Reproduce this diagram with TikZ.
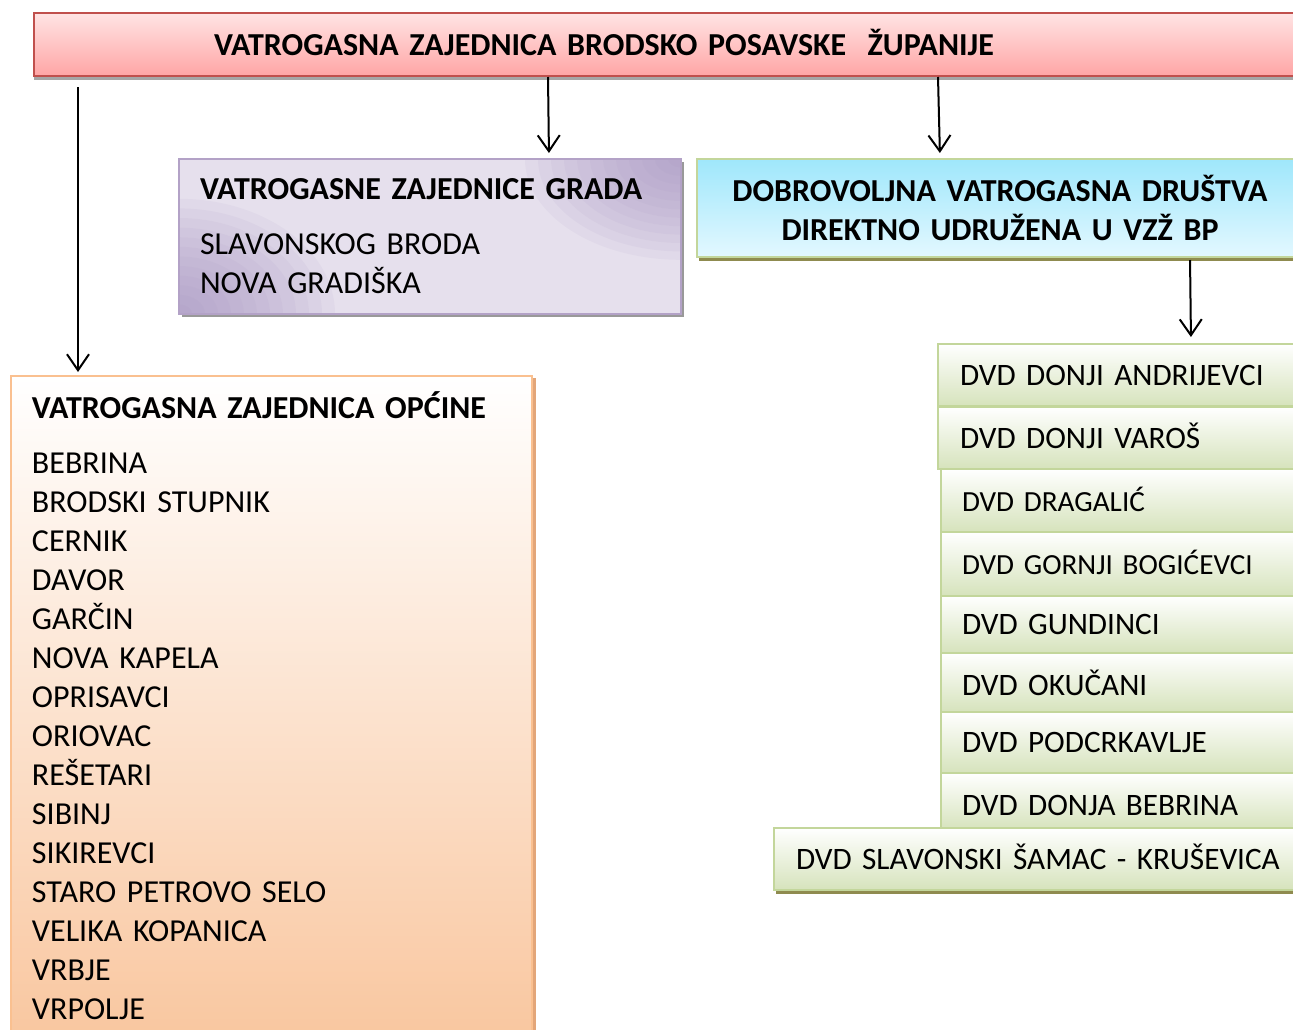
\documentclass[tikz,border=0pt]{standalone}
\usepackage{fontspec}
\setmainfont[WordSpace=0.85]{Carlito}
\usetikzlibrary{arrows.meta,shadows}

\definecolor{zupline}{HTML}{C0504D}
\definecolor{zuptop}{HTML}{FFE4E4}
\definecolor{zupbot}{HTML}{FFA5A5}
\definecolor{gradline}{HTML}{B3A2C7}
\definecolor{graddark}{HTML}{9F8BBC}
\definecolor{gradlight}{HTML}{E6E0ED}
\definecolor{dvdline}{HTML}{C3D69B}
\definecolor{dvdtop}{HTML}{9FE7FB}
\definecolor{dvdbot}{HTML}{E3F8FF}
\definecolor{grnbot}{HTML}{D6E3BC}
\definecolor{opcline}{HTML}{FAC090}
\definecolor{opcbot}{HTML}{F9C7A0}
\definecolor{opcshadow}{HTML}{E3A679}

\tikzset{
  txt/.style={font=\fontsize{16}{19.5}\selectfont},
  gtxt/.style={font=\fontsize{15.6}{19.5}\selectfont},
  stxt/.style={font=\fontsize{14.6}{19.5}\selectfont, text height=12pt, text depth=1.2pt},
  btxt/.style={font=\fontsize{16}{19.5}\selectfont\bfseries},
  box/.style={draw, line width=1pt, anchor=north west, inner ysep=0pt},
  zupbox/.style={box, draw=zupline, top color=zuptop, bottom color=zupbot,
    drop shadow={shadow xshift=0pt, shadow yshift=-2pt, fill=black!35, opacity=1}},
  gradbox/.style={box, draw=gradline, fill=gradlight,
    path picture={
      \foreach \k in {1,...,12}{
        \fill[graddark, opacity=0.08]
          (path picture bounding box.north east) ellipse [x radius=\k*6.5pt, y radius=\k*4.2pt];
        \fill[graddark, opacity=0.08]
          (path picture bounding box.south west) ellipse [x radius=\k*6.5pt, y radius=\k*4.8pt];}},
    drop shadow={shadow xshift=1.5pt, shadow yshift=-1.5pt, fill=black!40, opacity=1}},
  dvdbox/.style={box, draw=dvdline, top color=dvdtop, bottom color=dvdbot,
    drop shadow={shadow xshift=1pt, shadow yshift=-2pt, fill=olive!45!gray, opacity=1}},
  grnbox/.style={box, draw=dvdline, top color=white, bottom color=grnbot,
    inner xsep=11pt, align=left, text height=11.6pt, text depth=1.4pt,
    drop shadow={shadow xshift=1pt, shadow yshift=-2pt, fill=olive!45!gray, opacity=1}},
  opcbox/.style={box, draw=opcline, top color=white, bottom color=opcbot,
    drop shadow={shadow xshift=2pt, shadow yshift=-1pt, fill=opcshadow, opacity=1}},
  arr/.style={line width=1pt, -{Straight Barb[length=8pt,width=11pt]}},
}

\begin{document}
\begin{tikzpicture}[x=0.5pt,y=-0.5pt]
\useasboundingbox (0,0) rectangle (1293,1029);
\clip (0,0) rectangle (1293,1029);

% zupanija
\node[zupbox, btxt, minimum width=638.5pt, minimum height=31.5pt, inner xsep=90pt,
  text width=458.5pt, align=left, text height=12pt, text depth=1.2pt] (zup) at (33,12)
  {VATROGASNA ZAJEDNICA BRODSKO POSAVSKE\ \ ŽUPANIJE};

% gradovi
\node[gradbox, txt, minimum height=77.5pt, inner xsep=10.5pt, text width=230pt,
  align=left] (grad) at (178,158)
  {\textbf{VATROGASNE ZAJEDNICE GRADA}\\[8pt]
   SLAVONSKOG BRODA\\
   NOVA GRADIŠKA};

% direktno udruzena
\node[dvdbox, btxt, minimum width=303pt, minimum height=49pt, text width=286pt,
  align=center] (dvd) at (696,158)
  {DOBROVOLJNA VATROGASNA DRUŠTVA\\
   DIREKTNO UDRUŽENA U VZŽ BP};

% opcine
\node[opcbox, txt, minimum height=330pt, inner xsep=10.5pt, text width=239.5pt,
  align=left] (opc) at (10,375)
  {\textbf{VATROGASNA ZAJEDNICA OPĆINE}\\[8pt]
   BEBRINA\\ BRODSKI STUPNIK\\ CERNIK\\ DAVOR\\ GARČIN\\ NOVA KAPELA\\
   OPRISAVCI\\ ORIOVAC\\ REŠETARI\\ SIBINJ\\ SIKIREVCI\\ STARO PETROVO SELO\\
   VELIKA KOPANICA\\ VRBJE\\ VRPOLJE};

% dvd popis
\node[grnbox, gtxt, minimum height=31pt, text width=164.5pt] (andr) at (937,343) {DVD DONJI ANDRIJEVCI};
\node[grnbox, gtxt, minimum height=31pt, text width=164.5pt] (varos) at (937,406) {DVD DONJI VAROŠ};
\node[grnbox, stxt, minimum height=31.5pt, inner xsep=10.5pt, text width=164pt] (drag) at (940,468) {DVD DRAGALIĆ};
\node[grnbox, stxt, minimum height=32pt, inner xsep=10.5pt, text width=164pt] (bogic) at (940,531) {DVD GORNJI BOGIĆEVCI};
\node[grnbox, gtxt, minimum height=28.5pt, inner xsep=10.5pt, text width=164pt] (gund) at (940,595) {DVD GUNDINCI};
\node[grnbox, gtxt, minimum height=29.5pt, inner xsep=10.5pt, text width=164pt,
  text height=14.6pt] (okuc) at (940,652) {DVD OKUČANI};
\node[grnbox, gtxt, minimum height=30.5pt, inner xsep=10.5pt, text width=164pt] (podcr) at (940,711) {DVD PODCRKAVLJE};
\node[grnbox, gtxt, minimum height=28.5pt, inner xsep=10.5pt, text width=164pt,
  text height=15.6pt] (bebr) at (940,772) {DVD DONJA BEBRINA};
\node[grnbox, gtxt, minimum height=31pt, text width=262pt] (samac) at (773,827) {DVD SLAVONSKI ŠAMAC - KRUŠEVICA};

% veze
\draw[arr, shorten <=5pt, shorten >=1.5pt] ([xshift=22.5pt]zup.south west) -- ([xshift=34pt]opc.north west);
\draw[arr, shorten >=2.5pt] ([xshift=257.5pt]zup.south west) -- ([xshift=185.5pt]grad.north west);
\draw[arr, shorten >=2.5pt] ([xshift=452.5pt]zup.south west) -- ([xshift=122pt]dvd.north west);
\draw[arr, shorten <=1pt, shorten >=3pt] ([xshift=247pt]dvd.south west) -- ([xshift=127pt]andr.north west);
\end{tikzpicture}
\end{document}
